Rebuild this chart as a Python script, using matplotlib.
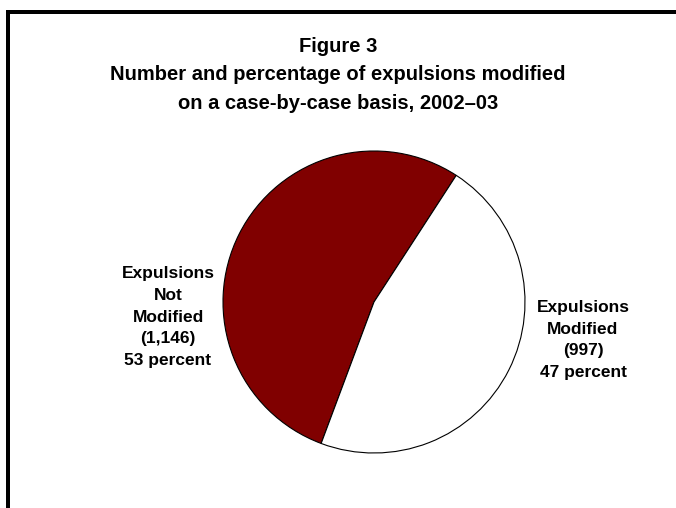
import matplotlib
matplotlib.use("Agg")
import matplotlib.pyplot as plt
from matplotlib.patches import Rectangle

plt.rcParams['font.family'] = ['Liberation Sans', 'DejaVu Sans']

# Data
categories = ["Expulsions\nNot\nModified", "Expulsions\nModified"]
counts = [1146, 997]
percents = [53, 47]
colors = ["#800000", "#ffffff"]

title = ("Figure 3\nNumber and percentage of expulsions modified\n"
         "on a case-by-case basis, 2002\u201303")

W, H = 676, 508
fig = plt.figure(figsize=(W / 100, H / 100), dpi=100)
ax = fig.add_axes([0, 0, 1, 1])
ax.set_xlim(0, W)
ax.set_ylim(0, H)
ax.set_aspect('equal')
ax.axis('off')

# Frame (left and top rules)
ax.add_patch(Rectangle((6, 0), 4, H - 10, color='black', lw=0))
ax.add_patch(Rectangle((6, H - 14), W - 6, 4, color='black', lw=0))

# Pie
ax.pie(counts, colors=colors, startangle=57, counterclock=True,
       center=(374, H - 302), radius=151,
       wedgeprops=dict(edgecolor='black', linewidth=0.8))
ax.set_xlim(0, W)
ax.set_ylim(0, H)

# Title
ax.text(W / 2, H - 75, title, ha='center', va='center',
        fontsize=14.5, fontweight='bold', linespacing=1.65)

# Slice labels
label_pos = [(168, 317), (583, 340)]
for cat, n, p, (x, y) in zip(categories, counts, percents, label_pos):
    txt = f"{cat}\n({n:,})\n{p} percent"
    ax.text(x, H - y, txt, ha='center', va='center', fontsize=12.5,
            fontweight='bold', linespacing=1.57)

fig.savefig("out.png", dpi=100)
